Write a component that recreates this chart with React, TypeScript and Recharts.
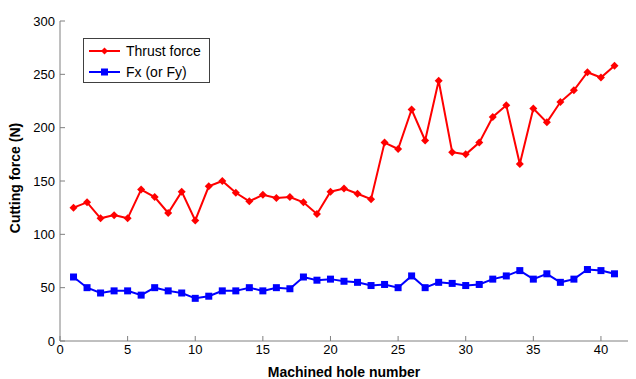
import { LineChart, Line, XAxis, YAxis } from 'recharts';

const holes = [1, 2, 3, 4, 5, 6, 7, 8, 9, 10, 11, 12, 13, 14, 15, 16, 17, 18, 19, 20, 21, 22, 23, 24, 25, 26, 27, 28, 29, 30, 31, 32, 33, 34, 35, 36, 37, 38, 39, 40, 41];

const thrustForce = [125, 130, 115, 118, 115, 142, 135, 120, 140, 113, 145, 150, 139, 131, 137, 134, 135, 130, 119, 140, 143, 138, 133, 186, 180, 217, 188, 244, 177, 175, 186, 210, 221, 166, 218, 205, 224, 235, 252, 247, 258];

const fxForce = [60, 50, 45, 47, 47, 43, 50, 47, 45, 40, 42, 47, 47, 50, 47, 50, 49, 60, 57, 58, 56, 55, 52, 53, 50, 61, 50, 55, 54, 52, 53, 58, 61, 66, 58, 63, 55, 58, 67, 66, 63];

const xTicks = [0, 5, 10, 15, 20, 25, 30, 35, 40];
const yTicks = [0, 50, 100, 150, 200, 250, 300];

const data = holes.map((h, i) => ({ hole: h, thrust: thrustForce[i], fx: fxForce[i] }));

const FONT = '"Liberation Sans", Arial, sans-serif';
const AXIS_GRAY = '#808080';

// diamond marker for thrust force
const Diamond = (props: any) => {
  const { cx, cy, fill } = props;
  if (cx == null || cy == null) return null;
  const r = 4;
  return <polygon points={`${cx},${cy - r} ${cx + r},${cy} ${cx},${cy + r} ${cx - r},${cy}`} fill={fill} />;
};

// square marker for Fx
const Square = (props: any) => {
  const { cx, cy, fill } = props;
  if (cx == null || cy == null) return null;
  const s = 3.5;
  return <rect x={cx - s} y={cy - s} width={s * 2} height={s * 2} fill={fill} />;
};

const LegendBox = () => (
  <div
    style={{
      position: 'absolute',
      left: 83,
      top: 38,
      border: '1px solid #404040',
      background: 'white',
      width: 125,
      height: 43,
    }}
  >
    <svg width={125} height={43} style={{ display: 'block' }}>
      <line x1={5} y1={12} x2={36} y2={12} stroke="#ff0000" strokeWidth={2} />
      <polygon points="20.5,8.5 24,12 20.5,15.5 17,12" fill="#ff0000" />
      <line x1={5} y1={33} x2={36} y2={33} stroke="#0000ff" strokeWidth={2} />
      <rect x={17} y={29.5} width={7} height={7} fill="#0000ff" />
      <text x={42} y={17} fontSize={14} fontFamily={FONT}>Thrust force</text>
      <text x={42} y={38} fontSize={14} fontFamily={FONT}>Fx (or Fy)</text>
    </svg>
  </div>
);

export default function App() {
  return (
    <div style={{ position: 'absolute', left: 0, top: 0, width: 636, height: 379, background: 'white' }}>
      <LineChart
        width={636}
        height={379}
        data={data}
        margin={{ top: 21, right: 8, left: 0, bottom: 0 }}
      >
        <XAxis
          dataKey="hole"
          type="number"
          domain={[0, 42]}
          ticks={xTicks}
          allowDataOverflow
          height={38}
          stroke={AXIS_GRAY}
          tickSize={-5}
          tickMargin={9}
          tick={{ fill: '#000', fontSize: 13, fontFamily: FONT }}
          label={(props: any) => {
            const vb = props.viewBox || {};
            const cx = (vb.x ?? 60) + (vb.width ?? 568) / 2;
            return (
              <text
                x={cx}
                y={371.5}
                textAnchor="middle"
                dominantBaseline="central"
                fontSize={14}
                fontWeight="bold"
                fontFamily={FONT}
                fill="#000"
              >
                Machined hole number
              </text>
            );
          }}
        />
        <YAxis
          type="number"
          domain={[0, 300]}
          ticks={yTicks}
          width={60}
          stroke={AXIS_GRAY}
          tickSize={-5}
          tickMargin={10}
          tick={{ fill: '#000', fontSize: 13, fontFamily: FONT }}
          label={(props: any) => {
            const vb = props.viewBox || {};
            const cy = (vb.y ?? 21) + (vb.height ?? 320) / 2 - 3;
            return (
              <text
                x={15}
                y={cy}
                transform={`rotate(-90, 15, ${cy})`}
                textAnchor="middle"
                dominantBaseline="central"
                fontSize={14}
                fontWeight="bold"
                fontFamily={FONT}
                fill="#000"
              >
                Cutting force (N)
              </text>
            );
          }}
        />
        <Line
          type="linear"
          dataKey="thrust"
          name="Thrust force"
          stroke="#ff0000"
          strokeWidth={2}
          dot={<Diamond fill="#ff0000" />}
          activeDot={false}
          isAnimationActive={false}
        />
        <Line
          type="linear"
          dataKey="fx"
          name="Fx (or Fy)"
          stroke="#0000ff"
          strokeWidth={2}
          dot={<Square fill="#0000ff" />}
          activeDot={false}
          isAnimationActive={false}
        />
      </LineChart>
      <LegendBox />
    </div>
  );
}
